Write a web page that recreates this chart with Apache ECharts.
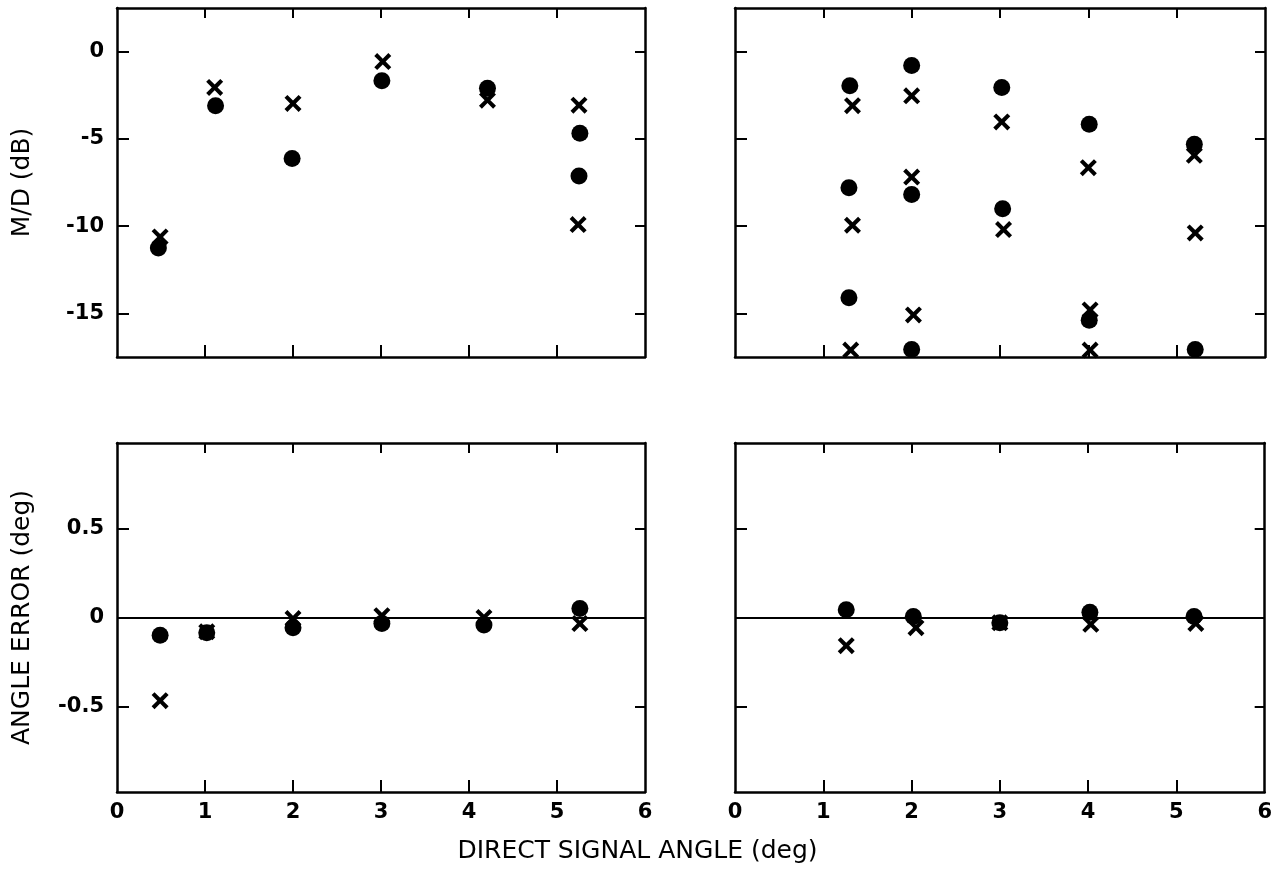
<!DOCTYPE html>
<html>
<head>
<meta charset="utf-8">
<script src="https://cdn.jsdelivr.net/npm/echarts@6/dist/echarts.min.js"></script>
<style>
html,body{margin:0;padding:0;background:#fff;}
#chart{width:1275px;height:885px;}
</style>
</head>
<body>
<div id="chart"></div>
<script>
// ---- Data ----
// Top-left panel: M/D (dB)
const tlCircles = [[0.47,-11.25],[1.12,-3.1],[1.99,-6.13],[3.01,-1.67],[4.21,-2.1],[5.26,-4.68],[5.25,-7.13]];
const tlCrosses = [[0.49,-10.62],[1.11,-2.05],[2.0,-2.97],[3.02,-0.57],[4.21,-2.78],[5.25,-3.07],[5.24,-9.91]];
// Top-right panel: M/D (dB)
const trCircles = [[1.30,-1.96],[1.29,-7.8],[1.29,-14.1],[2.0,-0.8],[2.0,-8.19],[2.0,-17.07],[3.02,-2.05],[3.03,-9.01],[4.01,-4.16],[4.01,-15.4],[5.2,-5.31],[5.21,-17.07]];
const trCrosses = [[1.33,-3.1],[1.33,-9.95],[1.31,-17.1],[2.0,-2.53],[2.0,-7.19],[2.02,-15.09],[3.02,-4.03],[3.04,-10.2],[4.0,-6.65],[4.02,-14.8],[4.02,-17.1],[5.2,-5.94],[5.21,-10.39]];
// Bottom-left panel: angle error (deg)
const blCircles = [[0.49,-0.10],[1.02,-0.086],[2.0,-0.057],[3.01,-0.033],[4.17,-0.042],[5.26,0.05]];
const blCrosses = [[0.49,-0.467],[1.02,-0.08],[2.0,-0.006],[3.01,0.01],[4.17,0.0],[5.26,-0.034]];
// Bottom-right panel: angle error (deg)
const brCircles = [[1.26,0.043],[2.02,0.006],[3.0,-0.029],[4.02,0.029],[5.2,0.006]];
const brCrosses = [[1.26,-0.158],[2.05,-0.057],[3.0,-0.03],[4.03,-0.038],[5.22,-0.033]];
// Ticks
const xTickVals = [1,2,3,4,5];
const xLabelVals = [0,1,2,3,4,5,6];
const mdTicks = [-15,-10,-5,0];
const errTicks = [-0.5,0,0.5];

const FONT = 'DejaVu Sans';
const INK = '#000';
const crossPath = 'path://M0,3.4 L3.4,0 L10,6.6 L16.6,0 L20,3.4 L13.4,10 L20,16.6 L16.6,20 L10,13.4 L3.4,20 L0,16.6 L6.6,10 Z';

const grids = [
  {left:117, top:8, width:528, height:349},
  {left:735, top:8, width:530, height:349},
  {left:117, top:443, width:528, height:349},
  {left:735, top:443, width:530, height:349}
];
const yRanges = [[-17.5,2.5],[-17.5,2.5],[-0.98,0.98],[-0.98,0.98]];
const yTickSets = [mdTicks, mdTicks, errTicks, errTicks];
const yNames = ['M/D (dB)', '', 'ANGLE ERROR (deg)', ''];
const showYLabels = [true,false,true,false];
const showXLabels = [false,false,true,true];

const axisLine = {show:true, onZero:false, lineStyle:{color:INK, width:2.5}};
const xAxes = [], yAxes = [];
grids.forEach((g,i)=>{
  xAxes.push({
    type:'value', gridIndex:i, min:0, max:6, position:'bottom',
    axisLine:axisLine,
    axisTick:{show:true, inside:true, length:12, customValues:xTickVals, lineStyle:{color:INK,width:2}},
    axisLabel:{show:showXLabels[i], customValues:xLabelVals, margin:10, fontFamily:FONT, fontSize:21, fontWeight:'bold', color:INK},
    splitLine:{show:false}
  });
  xAxes.push({
    type:'value', gridIndex:i, min:0, max:6, position:'top',
    axisLine:axisLine,
    axisTick:{show:true, inside:true, length:10, customValues:xTickVals, lineStyle:{color:INK,width:2}},
    axisLabel:{show:false},
    splitLine:{show:false}
  });
  yAxes.push({
    type:'value', gridIndex:i, min:yRanges[i][0], max:yRanges[i][1], position:'left',
    axisLine:axisLine,
    axisTick:{show:true, inside:true, length:12, customValues:yTickSets[i], lineStyle:{color:INK,width:2}},
    axisLabel:{show:showYLabels[i], customValues:yTickSets[i], margin:13, fontFamily:FONT, fontSize:21, fontWeight:'bold', color:INK},
    splitLine:{show:false},
    name:yNames[i], nameLocation:'middle', nameRotate:90, nameGap:82,
    nameTextStyle:{fontFamily:FONT, fontSize:25, color:INK}
  });
  yAxes.push({
    type:'value', gridIndex:i, min:yRanges[i][0], max:yRanges[i][1], position:'right',
    axisLine:axisLine,
    axisTick:{show:true, inside:true, length:10, customValues:yTickSets[i], lineStyle:{color:INK,width:2}},
    axisLabel:{show:false},
    splitLine:{show:false}
  });
});

function circleSeries(idx, data){
  return {type:'scatter', xAxisIndex:idx*2, yAxisIndex:idx*2, data:data,
    symbol:'circle', symbolSize:17, itemStyle:{color:INK, opacity:1}, z:3, silent:true};
}
function crossSeries(idx, data){
  return {type:'scatter', xAxisIndex:idx*2, yAxisIndex:idx*2, data:data,
    symbol:crossPath, symbolSize:17, itemStyle:{color:INK, opacity:1}, z:4, silent:true};
}
function zeroLine(idx){
  return {type:'line', xAxisIndex:idx*2, yAxisIndex:idx*2, data:[], silent:true,
    markLine:{silent:true, symbol:['none','none'], label:{show:false},
      lineStyle:{color:INK, width:2, type:'solid'}, data:[{yAxis:0}]}};
}

const series = [
  circleSeries(0, tlCircles), crossSeries(0, tlCrosses),
  circleSeries(1, trCircles), crossSeries(1, trCrosses),
  zeroLine(2), circleSeries(2, blCircles), crossSeries(2, blCrosses),
  zeroLine(3), circleSeries(3, brCircles), crossSeries(3, brCrosses)
];

const chart = echarts.init(document.getElementById('chart'), null, {renderer:'canvas'});
chart.setOption({
  backgroundColor:'#fff',
  animation:false,
  grid:grids,
  xAxis:xAxes,
  yAxis:yAxes,
  series:series,
  graphic:[{
    type:'text', left:'center', top:839,
    style:{text:'DIRECT SIGNAL ANGLE (deg)', fontFamily:FONT, fontSize:25, fill:INK}
  }]
});
</script>
</body>
</html>
